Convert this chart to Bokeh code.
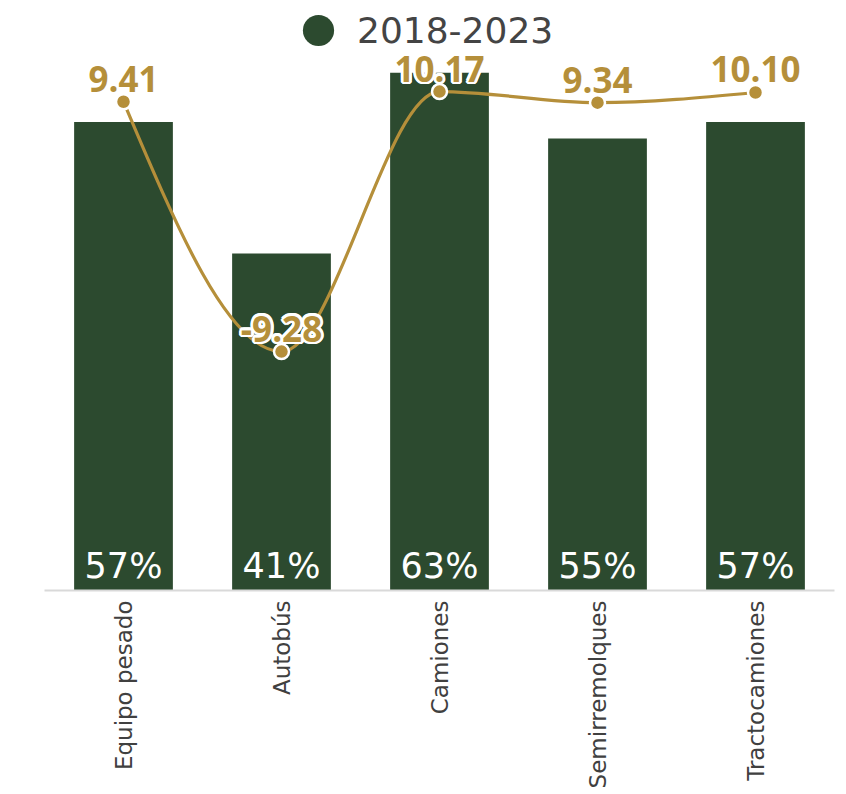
import math
import numpy as np
from bokeh.plotting import figure
from bokeh.models import Range1d, FixedTicker, ColumnDataSource, Legend, LegendItem
from bokeh.core.properties import value
from bokeh.embed import file_html
from bokeh.resources import INLINE

# ---- data ----
categories = ["Equipo pesado", "Autobús", "Camiones", "Semirremolques", "Tractocamiones"]
share_pct = [57, 41, 63, 55, 57]
growth = [9.41, -9.28, 10.17, 9.34, 10.10]
series_name = "2018-2023"

GREEN = "#2c4a2f"
GOLD = "#b58f3a"

xs = list(range(len(categories)))

src = ColumnDataSource(dict(
    x=xs,
    share=share_pct,
    plabel=[f"{v}%" for v in share_pct],
    g=growth,
    glabel=[f"{v:.2f}" for v in growth],
))

# monotone-x cubic tangents (as in d3 curveMonotoneX), used as bezier controls
def _sign(v):
    return (v > 0) - (v < 0)

n = len(xs)
sl = [(growth[i + 1] - growth[i]) / (xs[i + 1] - xs[i]) for i in range(n - 1)]
tang = [0.0] * n
for i in range(1, n - 1):
    h0 = xs[i] - xs[i - 1]
    h1 = xs[i + 1] - xs[i]
    s0, s1 = sl[i - 1], sl[i]
    pp = (s0 * h1 + s1 * h0) / (h0 + h1)
    tang[i] = (_sign(s0) + _sign(s1)) * min(abs(s0), abs(s1), 0.5 * abs(pp))
tang[0] = (3 * sl[0] - tang[1]) / 2
tang[-1] = (3 * sl[-1] - tang[-2]) / 2

bz = dict(x0=[], y0=[], x1=[], y1=[], cx0=[], cy0=[], cx1=[], cy1=[])
for i in range(n - 1):
    h = xs[i + 1] - xs[i]
    bz["x0"].append(xs[i]); bz["y0"].append(growth[i])
    bz["x1"].append(xs[i + 1]); bz["y1"].append(growth[i + 1])
    bz["cx0"].append(xs[i] + h / 3); bz["cy0"].append(growth[i] + tang[i] * h / 3)
    bz["cx1"].append(xs[i + 1] - h / 3); bz["cy1"].append(growth[i + 1] - tang[i + 1] * h / 3)
bz_src = ColumnDataSource(bz)

# ---- figure ----
p = figure(width=838, height=792, output_backend="svg", toolbar_location=None,
           x_range=Range1d(-0.5, len(categories) - 0.5), y_range=Range1d(0, 71.8),
           min_border_left=44, min_border_right=4, min_border_top=0, min_border_bottom=202,
           y_axis_location=None, outline_line_color=None)
p.extra_y_ranges = {"growth": Range1d(-27.15, 16.98)}
p.grid.visible = False

ax = p.xaxis[0]
ax.ticker = FixedTicker(ticks=xs)
ax.major_label_overrides = {i: c for i, c in zip(xs, categories)}
ax.major_label_orientation = math.pi / 2
ax.axis_line_color = "#d9d9d9"
ax.axis_line_width = 2
ax.major_tick_line_color = None
ax.minor_tick_line_color = None
ax.major_tick_out = 0
ax.major_tick_in = 0
ax.minor_tick_out = 0
ax.minor_tick_in = 0
ax.major_label_standoff = 10
ax.major_label_text_font = "DejaVu Sans"
ax.major_label_text_font_size = "23px"
ax.major_label_text_color = "#404040"

# bars
p.vbar(x="x", top="share", width=0.625, source=src, fill_color=GREEN, line_color=None)
p.text(x="x", y=0, text="plabel", source=src, text_align="center",
       text_baseline="middle", y_offset=-25,
       text_font=value("DejaVu Sans"), text_font_size="35px", text_color="white")

# smooth line
p.bezier(x0="x0", y0="y0", x1="x1", y1="y1", cx0="cx0", cy0="cy0", cx1="cx1", cy1="cy1",
         source=bz_src, y_range_name="growth", line_color=GOLD, line_width=3.2)

# value labels with white halo
LBL_DY = -23
LBL_SIZE = "35px"
for k in range(12):
    a = 2 * math.pi * k / 12
    p.text(x="x", y="g", text="glabel", source=src, y_range_name="growth",
           x_offset=2.8 * math.cos(a), y_offset=LBL_DY + 2.8 * math.sin(a),
           text_align="center", text_baseline="middle",
           text_font=value("Open Sans"), text_font_style="bold", text_font_size=LBL_SIZE,
           text_color="white")
p.text(x="x", y="g", text="glabel", source=src, y_range_name="growth",
       y_offset=LBL_DY, text_align="center", text_baseline="middle",
       text_font=value("Open Sans"), text_font_style="bold", text_font_size=LBL_SIZE,
       text_color=GOLD)

p.scatter(x="x", y="g", source=src, y_range_name="growth", size=15,
          fill_color=GOLD, line_color="white", line_width=2.5)

# legend
leg_src = ColumnDataSource(dict(x=np.array([np.nan]), y=np.array([np.nan])))
leg_r = p.scatter(x="x", y="y", source=leg_src, fill_color=GREEN, line_color=None)
legend = Legend(items=[LegendItem(label=series_name, renderers=[leg_r])],
                location=(235, 521), orientation="horizontal",
                glyph_width=78, glyph_height=78, label_standoff=0,
                padding=0, margin=0, spacing=0,
                background_fill_alpha=0, border_line_alpha=0,
                label_text_font="DejaVu Sans", label_text_font_size="36px",
                label_text_color="#444444")
p.add_layout(legend)

open("out.html", "w").write(file_html(p, INLINE))
